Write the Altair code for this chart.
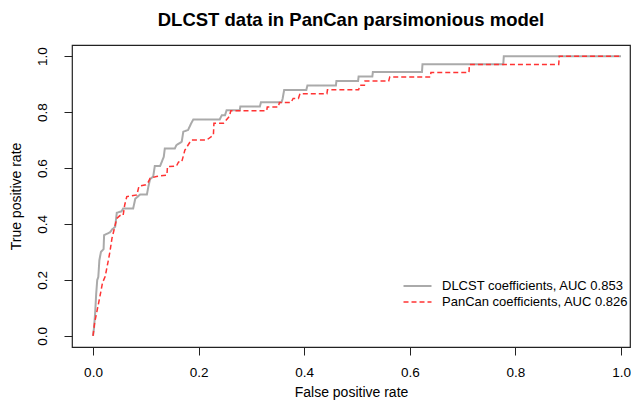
import altair as alt
import pandas as pd

# DLCST coefficients curve (grey, solid)
dlcst_fpr = [0.0, 0.002, 0.004, 0.006, 0.008, 0.010, 0.012, 0.015, 0.020, 0.021,
             0.032, 0.036, 0.042, 0.045, 0.054, 0.057, 0.076, 0.080, 0.089, 0.102,
             0.105, 0.108, 0.114, 0.117, 0.127, 0.134, 0.136, 0.155, 0.158, 0.168,
             0.171, 0.180, 0.186, 0.190, 0.240, 0.244, 0.250, 0.253, 0.278, 0.279,
             0.316, 0.318, 0.357, 0.359, 0.362, 0.404, 0.406, 0.460, 0.461, 0.502,
             0.503, 0.529, 0.530, 0.623, 0.624, 0.777, 0.778, 1.0]
dlcst_tpr = [0.0, 0.03, 0.08, 0.15, 0.20, 0.21, 0.27, 0.30, 0.31, 0.36,
             0.37, 0.38, 0.39, 0.44, 0.445, 0.455, 0.455, 0.49, 0.505, 0.505,
             0.535, 0.56, 0.57, 0.607, 0.607, 0.64, 0.67, 0.67, 0.682, 0.694,
             0.73, 0.736, 0.76, 0.774, 0.774, 0.789, 0.789, 0.807, 0.807, 0.82,
             0.82, 0.835, 0.835, 0.847, 0.879, 0.879, 0.895, 0.895, 0.911, 0.911,
             0.927, 0.927, 0.943, 0.943, 0.971, 0.971, 1.0, 1.0]

# PanCan coefficients curve (red, dashed)
pancan_fpr = [0.0, 0.003, 0.008, 0.013, 0.018, 0.023, 0.028, 0.032, 0.036, 0.040,
              0.045, 0.051, 0.057, 0.060, 0.064, 0.083, 0.087, 0.100, 0.105, 0.108,
              0.120, 0.140, 0.141, 0.158, 0.162, 0.168, 0.174, 0.186, 0.215, 0.228,
              0.229, 0.247, 0.258, 0.261, 0.329, 0.330, 0.351, 0.353, 0.375, 0.379,
              0.389, 0.392, 0.443, 0.444, 0.503, 0.506, 0.514, 0.515, 0.560, 0.562,
              0.639, 0.640, 0.712, 0.713, 0.882, 0.883, 1.0]
pancan_tpr = [0.0, 0.046, 0.093, 0.14, 0.19, 0.212, 0.26, 0.30, 0.35, 0.38,
              0.42, 0.43, 0.43, 0.468, 0.498, 0.504, 0.535, 0.54, 0.551, 0.563,
              0.57, 0.575, 0.605, 0.607, 0.622, 0.622, 0.664, 0.70, 0.70, 0.718,
              0.76, 0.76, 0.784, 0.805, 0.805, 0.818, 0.818, 0.834, 0.834, 0.849,
              0.849, 0.866, 0.866, 0.880, 0.880, 0.896, 0.896, 0.911, 0.911, 0.926,
              0.926, 0.942, 0.942, 0.970, 0.970, 1.0, 1.0]

series_names = ["DLCST coefficients, AUC 0.853", "PanCan coefficients, AUC 0.826"]
series_colors = ["#aaaaaa", "#ff3333"]
tick_values = [0.0, 0.2, 0.4, 0.6, 0.8, 1.0]

rows = []
for name, xs, ys in [(series_names[0], dlcst_fpr, dlcst_tpr),
                     (series_names[1], pancan_fpr, pancan_tpr)]:
    for i, (a, b) in enumerate(zip(xs, ys)):
        rows.append({"series": name, "order": i, "fpr": a, "tpr": b})
df = pd.DataFrame(rows)

legend = alt.Legend(
    title=None, orient="none", legendX=337.5, legendY=233,
    symbolType="M-2,0H2", symbolSize=196, labelFont="Liberation Sans",
    labelFontSize=13, labelColor="#000", rowPadding=1, padding=0,
    labelOffset=16.5, labelLimit=0,
)

chart = alt.Chart(df).mark_line(clip=True).encode(
    x=alt.X("fpr:Q", scale=alt.Scale(domain=[-0.0398, 1.017], nice=False, zero=False),
            axis=alt.Axis(values=tick_values, format=".1f", title="False positive rate",
                          labelPadding=10, titlePadding=7)),
    y=alt.Y("tpr:Q", scale=alt.Scale(domain=[-0.04, 1.04], nice=False, zero=False),
            axis=alt.Axis(values=tick_values, format=".1f", title="True positive rate",
                          labelAngle=270, labelAlign="center", labelBaseline="alphabetic",
                          labelPadding=18, titlePadding=12)),
    color=alt.Color("series:N", scale=alt.Scale(domain=series_names, range=series_colors),
                    legend=legend),
    strokeDash=alt.StrokeDash("series:N", scale=alt.Scale(domain=series_names,
                                                           range=[[1, 0], [5, 3]]),
                              legend=legend),
    strokeWidth=alt.StrokeWidth("series:N", scale=alt.Scale(domain=series_names,
                                                             range=[2, 1.5]),
                                legend=legend),
    order="order:Q",
).properties(
    width=558, height=302,
    title=alt.TitleParams("DLCST data in PanCan parsimonious model", font="Liberation Sans",
                          fontSize=18.5, fontWeight="bold", color="#000", offset=16),
    autosize=alt.AutoSizeParams(type="none"),
    padding={"left": 64, "top": 37, "right": 1, "bottom": 53},
).configure_view(
    stroke="#222", strokeWidth=1.2
).configure_axis(
    domain=False, grid=False, tickColor="#222", tickSize=8, tickWidth=1,
    labelFont="Liberation Sans", labelFontSize=13.5, labelColor="#000",
    titleFont="Liberation Sans", titleFontSize=14, titleFontWeight="normal",
    titleColor="#000",
)

chart.save("out.html", embed_options={"renderer": "svg", "actions": False})
